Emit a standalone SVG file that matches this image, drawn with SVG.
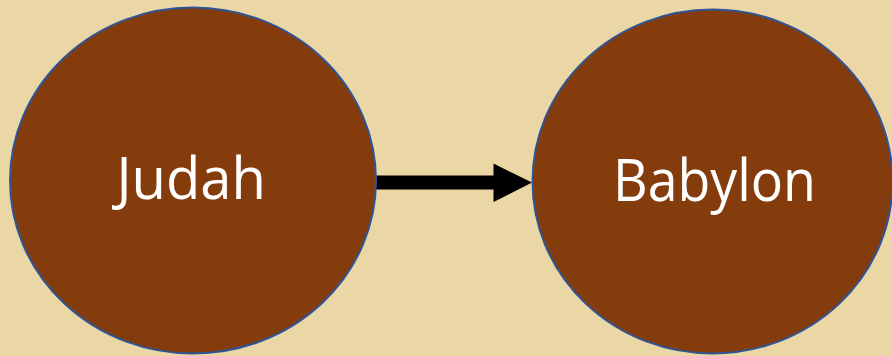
<svg xmlns="http://www.w3.org/2000/svg" width="892" height="356" viewBox="0 0 892 356">
<style>
.node{fill:#843C0C;stroke:#2F5597;stroke-width:2}
.lbl{fill:#FFFFFF;font-family:"Open Sans","Noto Sans","Liberation Sans",sans-serif;font-size:58px}
</style>
<rect width="892" height="356" fill="#EBD6A6"/>
<g id="connectors">
<polygon points="376,175.5 493.5,175.5 493.5,163.5 532,182.5 493.5,202 493.5,189.5 376,189.5" fill="#000"/>
</g>
<g id="judah">
<ellipse class="node" cx="193" cy="180.5" rx="183" ry="173"/>
<text class="lbl" x="116.5" y="199" textLength="149.5" lengthAdjust="spacingAndGlyphs">Judah</text>
</g>
<g id="babylon">
<ellipse class="node" cx="712.5" cy="181.5" rx="180" ry="172"/>
<text class="lbl" x="613" y="200.5" textLength="203" lengthAdjust="spacingAndGlyphs">Babylon</text>
</g>
</svg>
